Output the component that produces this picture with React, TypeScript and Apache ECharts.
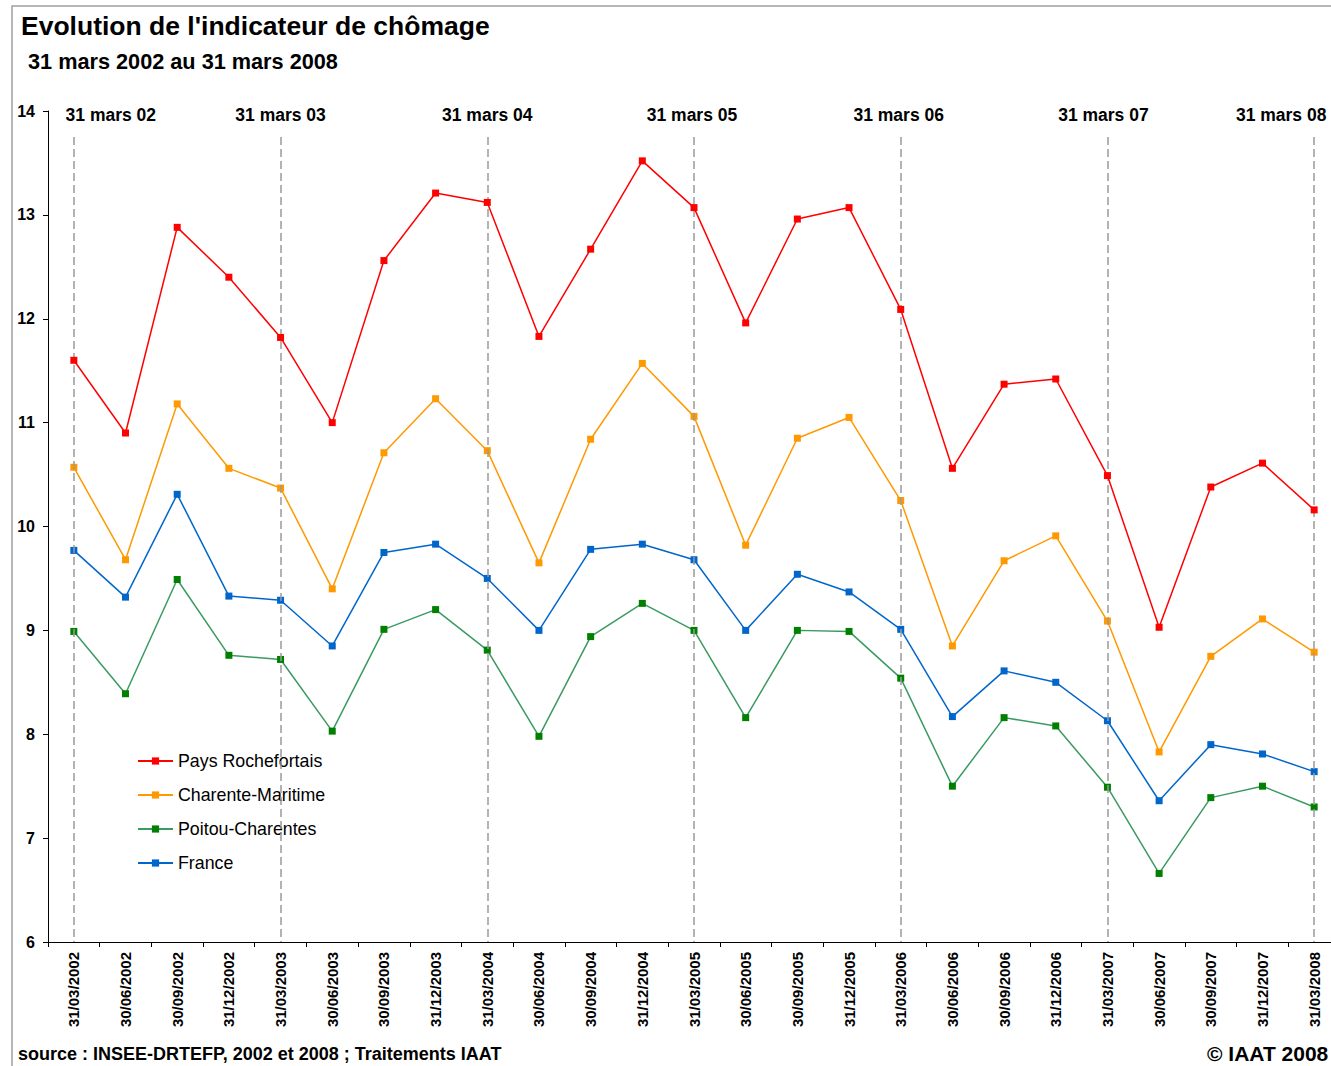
import React, { useEffect, useRef } from "react";
import * as echarts from "echarts";

const categories = [
  "31/03/2002", "30/06/2002", "30/09/2002", "31/12/2002",
  "31/03/2003", "30/06/2003", "30/09/2003", "31/12/2003",
  "31/03/2004", "30/06/2004", "30/09/2004", "31/12/2004",
  "31/03/2005", "30/06/2005", "30/09/2005", "31/12/2005",
  "31/03/2006", "30/06/2006", "30/09/2006", "31/12/2006",
  "31/03/2007", "30/06/2007", "30/09/2007", "31/12/2007",
  "31/03/2008",
];

const paysRochefortais = [
  11.6, 10.9, 12.88, 12.4, 11.82, 11.0, 12.56, 13.21, 13.12, 11.83, 12.67, 13.52,
  13.07, 11.96, 12.96, 13.07, 12.09, 10.56, 11.37, 11.42, 10.49, 9.03, 10.38, 10.61, 10.16,
];
const charenteMaritime = [
  10.57, 9.68, 11.18, 10.56, 10.37, 9.4, 10.71, 11.23, 10.73, 9.65, 10.84, 11.57,
  11.06, 9.82, 10.85, 11.05, 10.25, 8.85, 9.67, 9.91, 9.09, 7.83, 8.75, 9.11, 8.79,
];
const poitouCharentes = [
  8.99, 8.39, 9.49, 8.76, 8.72, 8.03, 9.01, 9.2, 8.81, 7.98, 8.94, 9.26,
  9.0, 8.16, 9.0, 8.99, 8.54, 7.5, 8.16, 8.08, 7.49, 6.66, 7.39, 7.5, 7.3,
];
const france = [
  9.77, 9.32, 10.31, 9.33, 9.29, 8.85, 9.75, 9.83, 9.5, 9.0, 9.78, 9.83,
  9.68, 9.0, 9.54, 9.37, 9.01, 8.17, 8.61, 8.5, 8.13, 7.36, 7.9, 7.81, 7.64,
];

const yearMarks = ["31/03/2002", "31/03/2003", "31/03/2004", "31/03/2005", "31/03/2006", "31/03/2007", "31/03/2008"];
const yearLabels = ["31 mars 02", "31 mars 03", "31 mars 04", "31 mars 05", "31 mars 06", "31 mars 07", "31 mars 08"];
const yearLabelShift = [37, 0, 0, -2, -2, -4, -33];

const FONT = "'Liberation Sans', Arial, sans-serif";

export default function App() {
  const ref = useRef<HTMLDivElement>(null);

  useEffect(() => {
    if (!ref.current) return;
    const chart = echarts.init(ref.current, null, { renderer: "svg" });

    const markData = yearMarks.map((m, i) => [
      {
        xAxis: m,
        yAxis: 13.75,
        label: {
          show: true,
          position: "start",
          formatter: yearLabels[i],
          offset: [yearLabelShift[i], 0],
        },
      },
      { xAxis: m, yAxis: 6 },
    ]);

    const mkSeries = (name: string, data: number[], lineColor: string, markerColor: string, extra: any = {}) => ({
      name,
      type: "line",
      data,
      symbol: "rect",
      symbolSize: 7,
      showSymbol: true,
      lineStyle: { color: lineColor, width: 1.5 },
      itemStyle: { color: markerColor },
      emphasis: { disabled: true },
      ...extra,
    });

    const option: any = {
      animation: false,
      backgroundColor: "#ffffff",
      textStyle: { fontFamily: FONT },
      title: [
        {
          text: "Evolution de l'indicateur de chômage",
          left: 16,
          top: 7,
          textStyle: { fontSize: 26.5, fontWeight: "bold", color: "#000", fontFamily: FONT },
        },
        {
          text: "31 mars 2002 au 31 mars 2008",
          left: 23,
          top: 45,
          textStyle: { fontSize: 21.7, fontWeight: "bold", color: "#000", fontFamily: FONT },
        },
      ],
      legend: {
        orient: "vertical",
        left: 132,
        top: 746,
        itemWidth: 35,
        itemHeight: 9,
        itemGap: 14,
        textStyle: { fontSize: 17.8, color: "#000", fontFamily: FONT, lineHeight: 20 },
        data: ["Pays Rochefortais", "Charente-Maritime", "Poitou-Charentes", "France"],
      },
      grid: { left: 48, top: 111, width: 1292, height: 831, containLabel: false },
      xAxis: {
        type: "category",
        data: categories,
        boundaryGap: true,
        axisLine: { show: true, lineStyle: { color: "#000", width: 1 } },
        axisTick: { show: true, length: 5, lineStyle: { color: "#000" } },
        axisLabel: {
          interval: 0,
          rotate: 90,
          margin: 10,
          fontSize: 15,
          fontWeight: "bold",
          color: "#000",
          fontFamily: FONT,
        },
        splitLine: { show: false },
      },
      yAxis: {
        type: "value",
        min: 6,
        max: 14,
        interval: 1,
        axisLine: { show: true, lineStyle: { color: "#000", width: 1 } },
        axisTick: { show: true, length: 5, lineStyle: { color: "#000" } },
        axisLabel: { margin: 13, fontSize: 16, fontWeight: "bold", color: "#000", fontFamily: FONT },
        splitLine: { show: false },
      },
      series: [
        mkSeries("Pays Rochefortais", paysRochefortais, "#FF0000", "#FF0000", {
          z: 5,
          markLine: {
            silent: true,
            symbol: ["none", "none"],
            animation: false,
            lineStyle: { color: "#9a9a9a", type: [8, 4], width: 1.5 },
            label: {
              show: true,
              distance: 13,
              fontSize: 17.5,
              fontWeight: "bold",
              color: "#000",
              fontFamily: FONT,
            },
            emphasis: { disabled: true },
            data: markData,
          },
        }),
        mkSeries("Charente-Maritime", charenteMaritime, "#FF9900", "#FF9900", { z: 4 }),
        mkSeries("Poitou-Charentes", poitouCharentes, "#3A9A62", "#008000", { z: 3 }),
        mkSeries("France", france, "#0066CC", "#0066CC", { z: 4 }),
      ],
      graphic: [
        {
          type: "rect",
          shape: { x: 12, y: 6, width: 1400, height: 1200 },
          style: { fill: "none", stroke: "#a0a0a0", lineWidth: 1.5 },
          silent: true,
          z: -1,
        },
        {
          type: "text",
          left: 18,
          top: 1045,
          style: {
            text: "source : INSEE-DRTEFP, 2002 et 2008 ; Traitements IAAT",
            fontSize: 18,
            fontWeight: "bold",
            fill: "#000",
            fontFamily: FONT,
          },
        },
        {
          type: "text",
          left: 1207,
          top: 1043,
          style: {
            text: "© IAAT 2008",
            fontSize: 21,
            fontWeight: "bold",
            fill: "#000",
            fontFamily: FONT,
          },
        },
      ],
    };

    chart.setOption(option);
    return () => chart.dispose();
  }, []);

  return (
    <div style={{ position: "absolute", left: 0, top: 0, width: 1331, height: 1066, overflow: "hidden" }}>
      <div ref={ref} style={{ width: 1348, height: 1066 }} />
    </div>
  );
}
